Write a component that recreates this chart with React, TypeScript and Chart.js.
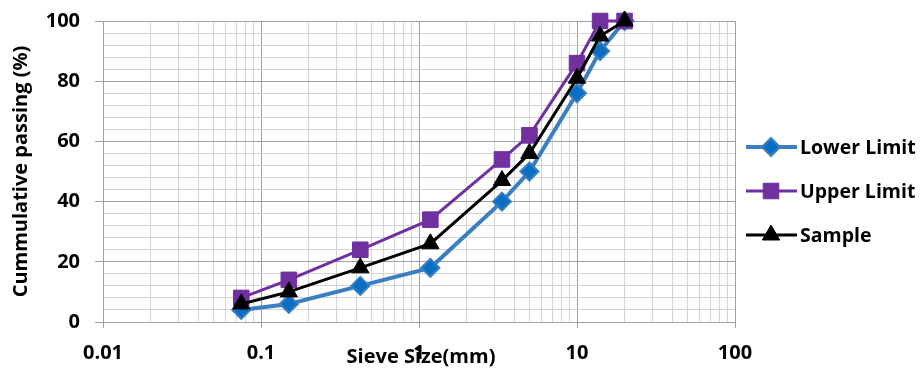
import React, { useEffect, useRef } from 'react';
import { Chart, registerables } from 'chart.js';
Chart.register(...registerables);

const sieveSizes = [0.075, 0.15, 0.425, 1.18, 3.35, 5, 10, 14, 20];
const lowerLimit = [4, 6, 12, 18, 40, 50, 76, 90, 100];
const upperLimit = [8, 14, 24, 34, 54, 62, 86, 100, 100];
const sample = [6, 10, 18, 26, 47, 56, 81, 95, 100];
const seriesNames = ['Lower Limit', 'Upper Limit', 'Sample'];
const xMajorTicks = [0.01, 0.1, 1, 10, 100];
const xTickLabels = ['0.01', '0.1', '1', '10', '100'];
const yMajorTicks = [0, 20, 40, 60, 80, 100];
const xTitle = 'Sieve Size(mm)';
const yTitle = 'Cummulative passing (%)';

const FONT = '"Open Sans", Lato, sans-serif';
const MAJOR_GRID = '#a0a0a0';
const MINOR_GRID = '#d4d4d4';

const isMajorX = (v: number) => xMajorTicks.some((m) => Math.abs(m - v) / m < 1e-9);

const customPlugin = {
  id: 'customText',
  afterDraw(chart: any) {
    const { ctx, chartArea } = chart;
    ctx.save();
    ctx.fillStyle = '#000';
    ctx.font = `bold 20px ${FONT}`;
    ctx.textAlign = 'center';
    ctx.textBaseline = 'middle';
    ctx.fillText(xTitle, (chartArea.left + chartArea.right) / 2 + 2, chartArea.bottom + 35);
    ctx.save();
    ctx.translate(21, (chartArea.top + chartArea.bottom) / 2);
    ctx.rotate(-Math.PI / 2);
    ctx.font = `bold 20px ${FONT}`;
    ctx.fillText(yTitle, 0, 0);
    ctx.restore();

    // legend
    const lx = chartArea.right + 11;
    const ly0 = chartArea.top + 126;
    chart.data.datasets.forEach((ds: any, i: number) => {
      const y = ly0 + i * 44;
      ctx.strokeStyle = ds.borderColor;
      ctx.lineWidth = ds.borderWidth;
      ctx.beginPath();
      ctx.moveTo(lx, y);
      ctx.lineTo(lx + 51, y);
      ctx.stroke();
      const cx = lx + 25;
      const r = ds.pointRadius;
      ctx.fillStyle = ds.pointBackgroundColor;
      ctx.strokeStyle = ds.pointBorderColor;
      ctx.lineWidth = ds.pointBorderWidth;
      ctx.beginPath();
      if (ds.pointStyle === 'rectRot') {
        ctx.moveTo(cx, y - r);
        ctx.lineTo(cx + r, y);
        ctx.lineTo(cx, y + r);
        ctx.lineTo(cx - r, y);
      } else if (ds.pointStyle === 'rect') {
        const s = r * Math.SQRT1_2;
        ctx.rect(cx - s, y - s, 2 * s, 2 * s);
      } else {
        ctx.moveTo(cx, y - r);
        ctx.lineTo(cx + r * 0.866, y + r * 0.5);
        ctx.lineTo(cx - r * 0.866, y + r * 0.5);
      }
      ctx.closePath();
      ctx.fill();
      ctx.stroke();
      ctx.fillStyle = '#000';
      ctx.font = `bold 19.5px ${FONT}`;
      ctx.textAlign = 'left';
      ctx.textBaseline = 'middle';
      ctx.fillText(ds.label, lx + 54, y + 1);
    });
    ctx.restore();
  },
};

export default function App() {
  const ref = useRef<HTMLCanvasElement>(null);
  useEffect(() => {
    document.body.style.margin = '0';
    const mk = (arr: number[]) => arr.map((v, i) => ({ x: sieveSizes[i], y: v }));
    const chart = new Chart(ref.current!, {
      type: 'line',
      data: {
        datasets: [
          {
            label: seriesNames[0],
            data: mk(lowerLimit),
            borderColor: '#3a7fc1',
            borderWidth: 4,
            pointStyle: 'rectRot',
            pointRadius: 9,
            pointBackgroundColor: '#0a6fc4',
            pointBorderColor: '#3a7fc1',
            pointBorderWidth: 2,
            order: 2,
            clip: false,
          },
          {
            label: seriesNames[1],
            data: mk(upperLimit),
            borderColor: '#7030a0',
            borderWidth: 3,
            pointStyle: 'rect',
            pointRadius: 11,
            pointBackgroundColor: '#7030a0',
            pointBorderColor: '#7030a0',
            pointBorderWidth: 1,
            order: 1,
            clip: false,
          },
          {
            label: seriesNames[2],
            data: mk(sample),
            borderColor: '#000000',
            borderWidth: 3,
            pointStyle: 'triangle',
            pointRadius: 10,
            pointBackgroundColor: '#000000',
            pointBorderColor: '#000000',
            pointBorderWidth: 1,
            order: 0,
            clip: false,
          },
        ] as any,
      },
      options: {
        animation: false,
        responsive: false,
        layout: { padding: { left: 0, top: 21, right: 186, bottom: 0 } },
        plugins: { legend: { display: false }, tooltip: { enabled: false } },
        scales: {
          x: {
            type: 'logarithmic',
            min: 0.01,
            max: 100,
            afterBuildTicks: (scale: any) => {
              const ticks: any[] = [];
              for (let d = 0; d < xMajorTicks.length; d++) {
                const base = xMajorTicks[d];
                ticks.push({ value: base });
                if (d < xMajorTicks.length - 1) {
                  for (let m = 2; m <= 9; m++) ticks.push({ value: base * m });
                }
              }
              scale.ticks = ticks;
            },
            afterFit: (scale: any) => {
              scale.height = 46;
              scale.paddingLeft = 0;
              scale.paddingRight = 0;
            },
            grid: {
              color: (c: any) => (c.tick && isMajorX(c.tick.value) ? MAJOR_GRID : MINOR_GRID),
              tickColor: (c: any) => (c.tick && isMajorX(c.tick.value) ? MAJOR_GRID : 'rgba(0,0,0,0)'),
              tickLength: 6,
              lineWidth: 1,
            },
            border: { color: MAJOR_GRID },
            ticks: {
              autoSkip: false,
              maxRotation: 0,
              padding: 13,
              color: '#000',
              font: { family: FONT, size: 20, weight: 'bold' },
              callback: (v: any) => {
                const idx = xMajorTicks.findIndex((m) => Math.abs(m - v) / m < 1e-9);
                return idx >= 0 ? xTickLabels[idx] : '';
              },
            },
          },
          y: {
            min: 0,
            max: 100,
            afterFit: (scale: any) => {
              scale.width = 103;
              scale.paddingTop = 0;
              scale.paddingBottom = 0;
            },
            grid: {
              color: (c: any) => (c.tick && yMajorTicks.includes(c.tick.value) ? MAJOR_GRID : MINOR_GRID),
              tickColor: (c: any) => (c.tick && yMajorTicks.includes(c.tick.value) ? MAJOR_GRID : 'rgba(0,0,0,0)'),
              tickLength: 8,
              lineWidth: 1,
            },
            border: { color: MAJOR_GRID },
            ticks: {
              stepSize: 4,
              autoSkip: false,
              padding: 15,
              color: '#000',
              font: { family: FONT, size: 20, weight: 'bold' },
              callback: (v: any) => (yMajorTicks.includes(v) ? String(v) : ''),
            },
          },
        },
      } as any,
      plugins: [customPlugin],
    });
    return () => chart.destroy();
  }, []);
  return <canvas ref={ref} width={921} height={368} style={{ display: 'block' }} />;
}
